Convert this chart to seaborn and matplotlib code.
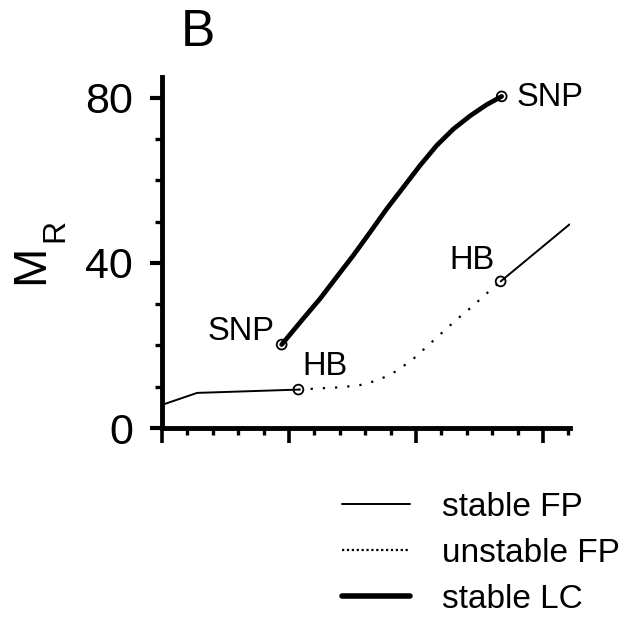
import matplotlib
matplotlib.use("Agg")
import matplotlib.pyplot as plt
import seaborn as sns
import pandas as pd
from matplotlib.lines import Line2D
from matplotlib.ticker import MultipleLocator, NullFormatter

# ---- data ----
fp_low_x = [0.0, 1.38, 5.37]
fp_low_y = [5.6, 8.5, 9.3]

ufp_x = [5.37, 6.22, 7.01, 7.80, 8.52, 9.17, 9.83, 10.42, 11.01, 11.60, 12.19, 12.78, 13.33]
ufp_y = [9.3, 9.6, 9.85, 10.4, 11.6, 13.6, 16.4, 19.7, 23.0, 26.3, 29.3, 32.6, 35.5]

fp_high_x = [13.33, 16.04]
fp_high_y = [35.5, 49.3]

lc_x = [4.71, 5.56, 6.22, 6.88, 7.53, 8.19, 8.85, 9.50, 10.16, 10.81, 11.47, 12.13, 12.78, 13.37]
lc_y = [20.2, 26.5, 31.3, 36.6, 41.8, 47.4, 53.1, 58.3, 63.6, 68.4, 72.4, 75.6, 78.3, 80.3]

pt_labels = ["SNP", "SNP", "HB", "HB"]
pt_x = [4.71, 13.37, 5.37, 13.33]
pt_y = [20.2, 80.3, 9.3, 35.5]

y_ticks = [0, 40, 80]
legend_labels = ["stable FP", "unstable FP", "stable LC"]

sns.set_style("ticks")
plt.rcParams['font.family'] = ['Liberation Sans', 'DejaVu Sans']
for k in ["text.color", "axes.labelcolor", "xtick.color", "ytick.color", "axes.edgecolor"]:
    plt.rcParams[k] = "black"

fig = plt.figure(figsize=(6.38, 6.19), dpi=100)
ax = fig.add_axes([162/638, 1-428/619, (570-162)/638, (428-77)/619])

def seg(x, y, **kw):
    df = pd.DataFrame({"x": x, "y": y})
    sns.lineplot(data=df, x="x", y="y", ax=ax, sort=False, estimator=None,
                 color="black", **kw)

seg(fp_low_x, fp_low_y, linewidth=1.4)
seg(ufp_x, ufp_y, linewidth=1.6, linestyle=(0, (1, 4.5)))
seg(fp_high_x, fp_high_y, linewidth=1.4)
seg(lc_x, lc_y, linewidth=3.4)

ax.scatter(pt_x, pt_y, s=50, facecolors="none", edgecolors="black",
           linewidths=1.3, zorder=5, clip_on=False)

offsets = [(-5, 9.4, "right"), (11, -1, "left"), (2.9, 16.5, "left"), (-4.3, 15, "right")]
for lab, x, y, (dx, dy, ha) in zip(pt_labels, pt_x, pt_y, offsets):
    ax.annotate(lab, (x, y), xytext=(dx, dy), textcoords="offset points",
                ha=ha, va="center", fontsize=23.5)

ax.set_xlim(0, 16.06)
ax.set_ylim(0, 85)
ax.set_yticks(y_ticks)
ax.yaxis.set_minor_locator(MultipleLocator(10))
ax.xaxis.set_major_locator(MultipleLocator(5))
ax.xaxis.set_minor_locator(MultipleLocator(1))
ax.xaxis.set_major_formatter(NullFormatter())
ax.set_xlabel("")
ax.set_ylabel("")
ax.tick_params(axis="y", which="major", length=9, width=3, labelsize=31, pad=12)
ax.tick_params(axis="x", which="major", length=11, width=2.6)
ax.tick_params(which="minor", length=5, width=2.4)
for s in ["top", "right"]:
    ax.spines[s].set_visible(False)
for s in ["left", "bottom"]:
    ax.spines[s].set_linewidth(3.5)

# y-axis label M_R (M with large subscript R)
fig.text(31/638, 1-264/619, "M", fontsize=34, rotation=90, ha="center", va="center")
fig.text(55/638, 1-230/619, "R", fontsize=23, rotation=90, ha="center", va="center")

fig.text(181/638, 1-32/619, "B", fontsize=37, va="center", ha="left")

handles = [Line2D([], [], color="black", lw=1.4),
           Line2D([], [], color="black", lw=1.6, linestyle=(0, (1, 1.2))),
           Line2D([], [], color="black", lw=4)]
fig.legend(handles, legend_labels, loc="upper left",
           bbox_to_anchor=(342/638, 1-492/619), frameon=False, fontsize=24,
           handlelength=2.04, handletextpad=0.96, labelspacing=0.45, borderpad=0,
           borderaxespad=0)

fig.savefig("out.png", dpi=100)
